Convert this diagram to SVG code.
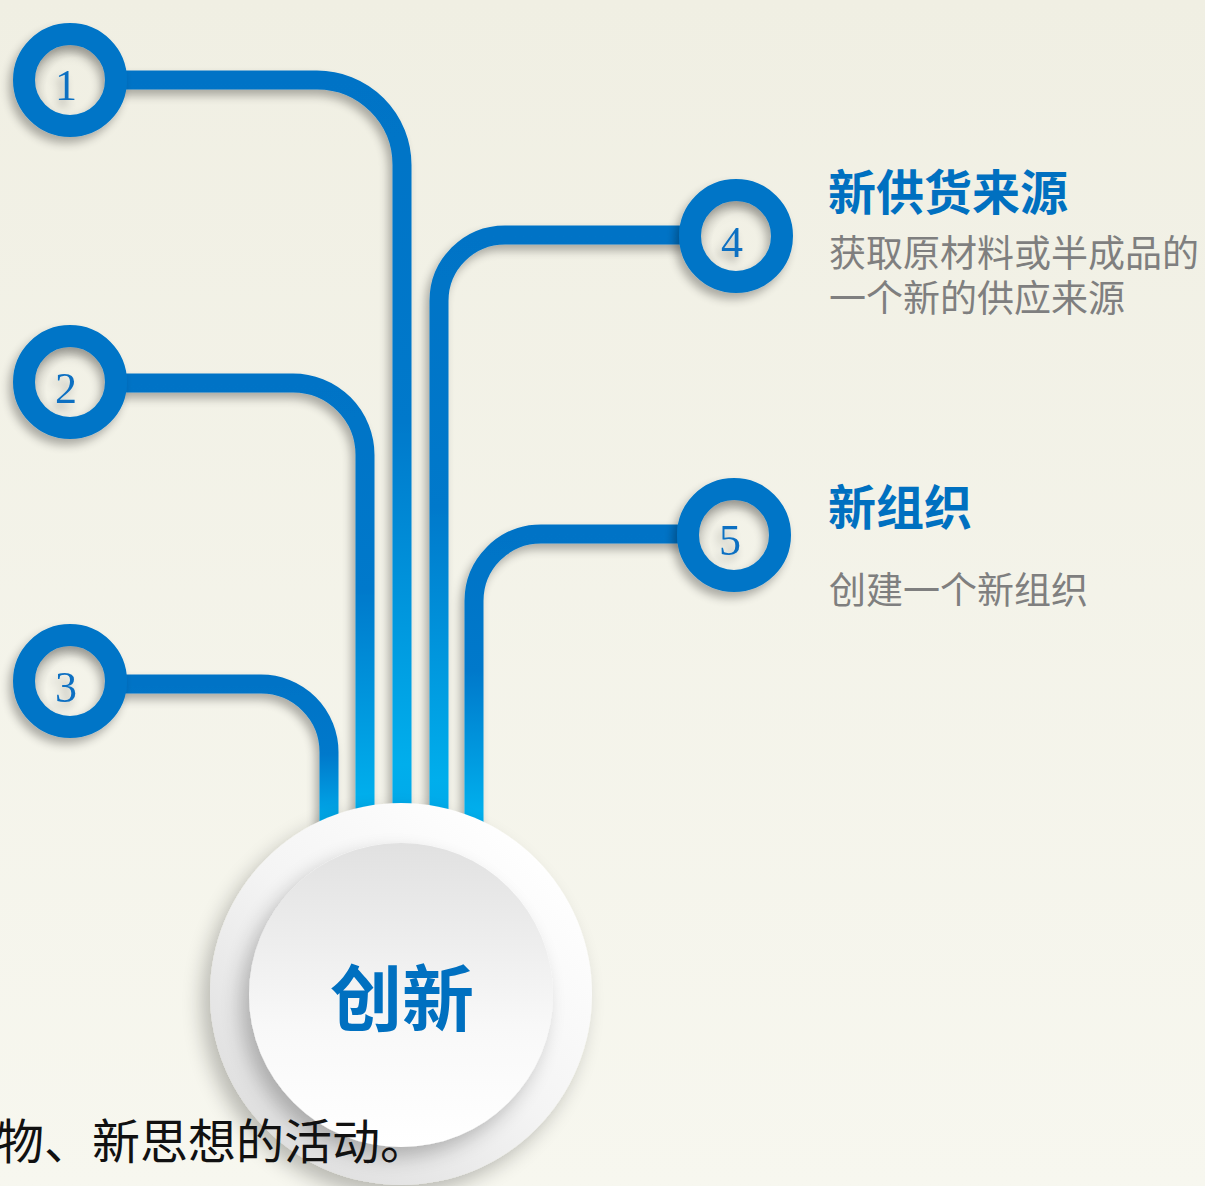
<svg xmlns="http://www.w3.org/2000/svg" width="1205" height="1186" viewBox="0 0 1205 1186">
<defs>
<style>
.ring{fill:none;stroke:#0075c7;stroke-width:22}
.num{font-family:"Liberation Serif","Times New Roman",serif;font-size:44px;fill:#0a6fc2;text-anchor:middle}
.line{fill:none;stroke:url(#lineGrad);stroke-width:19}
.title{font-family:"Noto Sans CJK SC","Noto Sans",sans-serif;font-weight:700;font-size:48px;fill:#0070c0}
.desc{font-family:"Noto Sans CJK SC","Noto Sans",sans-serif;font-size:37px;fill:#7f7f7f}
.hole{fill:url(#holeGrad)}
</style>
<linearGradient id="bg" x1="0" y1="0" x2="0" y2="1">
<stop offset="0" stop-color="#f0efe3"/>
<stop offset="1" stop-color="#f7f7ef"/>
</linearGradient>
<linearGradient id="lineGrad" x1="0" y1="0" x2="0" y2="1">
<stop offset="0" stop-color="#0073c6"/>
<stop offset="0.45" stop-color="#0079cb"/>
<stop offset="0.9" stop-color="#00aeec"/>
<stop offset="1" stop-color="#00a6e8"/>
</linearGradient>
<radialGradient id="holeGrad" cx="0.58" cy="0.6" r="0.6">
<stop offset="0.7" stop-color="#000" stop-opacity="0"/>
<stop offset="1" stop-color="#000" stop-opacity="0.12"/>
</radialGradient>
<linearGradient id="outerGrad" x1="0.85" y1="0.1" x2="0.15" y2="0.9">
<stop offset="0" stop-color="#ffffff"/>
<stop offset="0.5" stop-color="#f4f4f4"/>
<stop offset="1" stop-color="#dedede"/>
</linearGradient>
<linearGradient id="innerGrad" x1="0" y1="0" x2="0" y2="1">
<stop offset="0" stop-color="#e1e1e1"/>
<stop offset="0.6" stop-color="#f8f8f8"/>
<stop offset="1" stop-color="#ffffff"/>
</linearGradient>
<filter id="sh" x="-30%" y="-30%" width="160%" height="160%">
<feGaussianBlur in="SourceAlpha" stdDeviation="5"/>
<feOffset dx="-4" dy="6"/>
<feComponentTransfer><feFuncA type="linear" slope="0.3"/></feComponentTransfer>
<feMerge><feMergeNode/><feMergeNode in="SourceGraphic"/></feMerge>
</filter>
<filter id="shBig" x="-30%" y="-30%" width="160%" height="160%">
<feGaussianBlur in="SourceAlpha" stdDeviation="10"/>
<feOffset dx="-8" dy="10"/>
<feComponentTransfer><feFuncA type="linear" slope="0.25"/></feComponentTransfer>
<feMerge><feMergeNode/><feMergeNode in="SourceGraphic"/></feMerge>
</filter>
</defs>
<rect width="1205" height="1186" fill="url(#bg)"/>

<g id="connectors" filter="url(#sh)">
<path class="line" d="M 112 80 H 317 A 85 85 0 0 1 402 165 V 840"/>
<path class="line" d="M 112 383 H 293 A 72 72 0 0 1 365 455 V 840"/>
<path class="line" d="M 112 684 H 261 A 68 68 0 0 1 329 752 V 840"/>
<path class="line" d="M 694 235 H 505 A 66 66 0 0 0 439 301 V 840"/>
<path class="line" d="M 692 534 H 541 A 67 67 0 0 0 474 601 V 840"/>
</g>

<g id="node1" filter="url(#sh)">
<circle class="ring" cx="70" cy="80" r="46"/>
<circle class="hole" cx="70" cy="80" r="35"/>
<text class="num" x="66" y="100">1</text>
</g>
<g id="node2" filter="url(#sh)">
<circle class="ring" cx="70" cy="382" r="46"/>
<circle class="hole" cx="70" cy="382" r="35"/>
<text class="num" x="66" y="403">2</text>
</g>
<g id="node3" filter="url(#sh)">
<circle class="ring" cx="70" cy="681" r="46"/>
<circle class="hole" cx="70" cy="681" r="35"/>
<text class="num" x="66" y="702">3</text>
</g>
<g id="node4" filter="url(#sh)">
<circle class="ring" cx="736" cy="236" r="46"/>
<circle class="hole" cx="736" cy="236" r="35"/>
<text class="num" x="732" y="257">4</text>
</g>
<g id="node5" filter="url(#sh)">
<circle class="ring" cx="734" cy="535" r="46"/>
<circle class="hole" cx="734" cy="535" r="35"/>
<text class="num" x="730" y="555">5</text>
</g>

<g id="label4">
<text class="title" x="828" y="210">新供货来源</text>
<text class="desc" x="829" y="267">获取原材料或半成品的</text>
<text class="desc" x="829" y="312">一个新的供应来源</text>
</g>
<g id="label5">
<text class="title" x="828" y="525">新组织</text>
<text class="desc" x="829" y="604">创建一个新组织</text>
</g>

<g id="center">
<circle cx="401" cy="994" r="191" fill="url(#outerGrad)" filter="url(#shBig)"/>
<circle cx="401" cy="995" r="152" fill="url(#innerGrad)" filter="url(#shBig)"/>
<text x="402" y="1025" text-anchor="middle" style="font-family:'Noto Sans CJK SC','Noto Sans',sans-serif;font-weight:700;font-size:72px;fill:#0070c0">创新</text>
</g>

<text x="-4" y="1159" style="font-family:'Noto Sans CJK SC','Noto Sans',sans-serif;font-size:48px;fill:#111111">物、新思想的活动。</text>
</svg>
